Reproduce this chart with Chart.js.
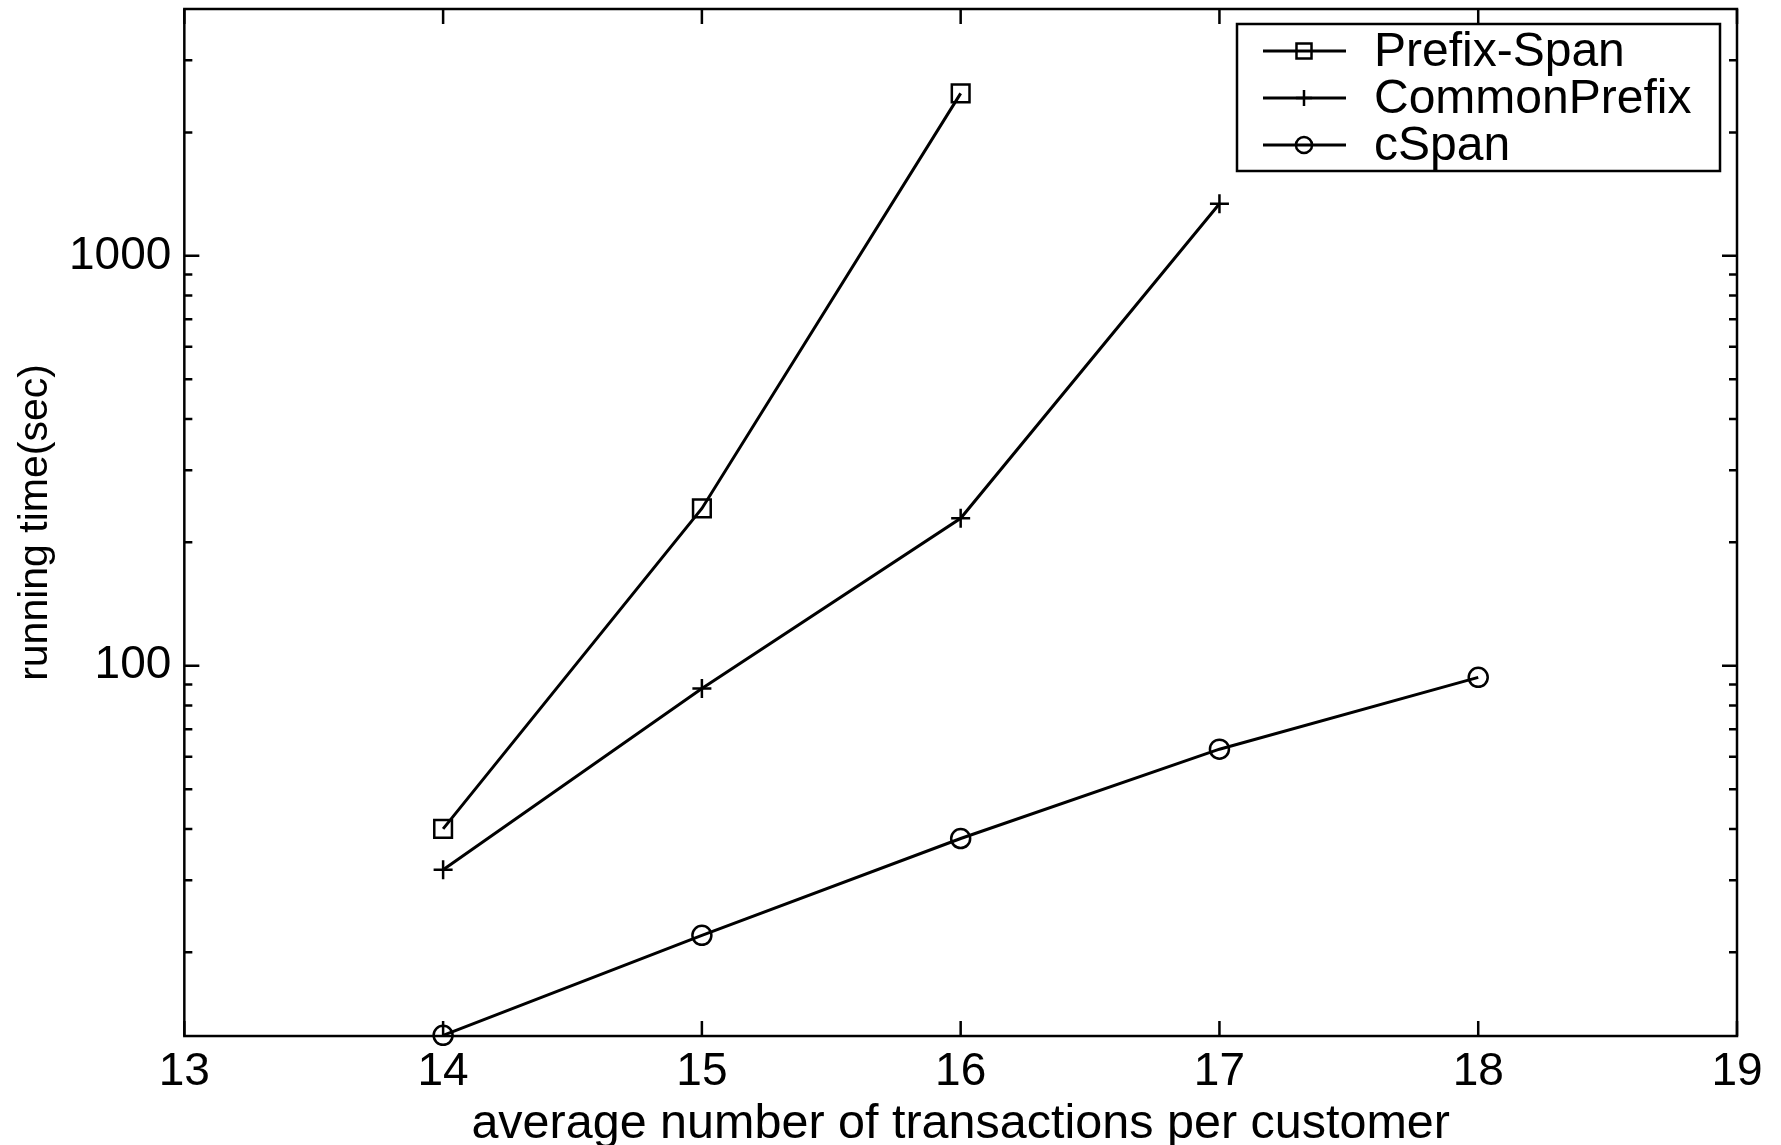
<!DOCTYPE html>
<html>
<head>
<meta charset="utf-8">
<script src="https://cdn.jsdelivr.net/npm/chart.js@4.4.1/dist/chart.umd.min.js"></script>
<style>
    html, body { margin: 0; padding: 0; background: #fff; }
</style>
</head>
<body>
<canvas id="runtimeChart" width="1781" height="1145"></canvas>
<script>
const txPerCustomer = [14, 15, 16, 17, 18];
const prefixSpanTime = [40, 242, 2490];
const commonPrefixTime = [31.8, 88, 229, 1340];
const cSpanTime = [12.55, 22, 37.9, 62.6, 93.7];
const seriesNames = ['Prefix-Span', 'CommonPrefix', 'cSpan'];
const xTicks = [13, 14, 15, 16, 17, 18, 19];
const yTicks = [20, 30, 40, 50, 60, 70, 80, 90, 100, 200, 300, 400, 500, 600, 700, 800, 900, 1000, 2000, 3000];
const yTickLabels = { 100: '100', 1000: '1000' };

const fontFamily = '"Liberation Sans", Arial, Helvetica, sans-serif';

function toPoints(values) {
    return values.map((v, i) => ({ x: txPerCustomer[i], y: v }));
}

function seriesStyle(label, values, pointStyle, radius) {
    return {
        label: label,
        data: toPoints(values),
        borderColor: '#000',
        borderWidth: 3,
        pointStyle: pointStyle,
        pointRadius: radius,
        pointBorderWidth: 2.5,
        pointBorderColor: '#000',
        pointBackgroundColor: 'rgba(0,0,0,0)',
        tension: 0,
        clip: false
    };
}

// box around the plot, with matlab style ticks pointing inwards on all four sides
const framePlugin = {
    id: 'frame',
    afterDatasetsDraw(chart) {
        const { ctx, chartArea: a, scales: { x, y } } = chart;
        ctx.save();
        ctx.strokeStyle = '#000';
        ctx.lineWidth = 2.5;
        ctx.strokeRect(a.left, a.top, a.right - a.left, a.bottom - a.top);
        ctx.beginPath();
        xTicks.forEach(v => {
            const px = x.getPixelForValue(v);
            ctx.moveTo(px, a.bottom); ctx.lineTo(px, a.bottom - 15);
            ctx.moveTo(px, a.top); ctx.lineTo(px, a.top + 15);
        });
        yTicks.forEach(v => {
            const py = y.getPixelForValue(v);
            const len = yTickLabels[v] ? 15 : 8;
            ctx.moveTo(a.left, py); ctx.lineTo(a.left + len, py);
            ctx.moveTo(a.right, py); ctx.lineTo(a.right - len, py);
        });
        ctx.stroke();
        ctx.restore();
    }
};

// legend box in the top right corner: line sample with the marker in its middle
const boxLegendPlugin = {
    id: 'boxLegend',
    afterDraw(chart) {
        const { ctx, chartArea: a } = chart;
        const boxW = 483, boxH = 147;
        const left = a.right - 17 - boxW;
        const top = a.top + 15;
        ctx.save();
        ctx.fillStyle = '#fff';
        ctx.fillRect(left, top, boxW, boxH);
        ctx.strokeStyle = '#000';
        ctx.lineWidth = 2.5;
        ctx.strokeRect(left, top, boxW, boxH);
        ctx.font = '48px ' + fontFamily;
        ctx.textBaseline = 'middle';
        chart.data.datasets.forEach((ds, i) => {
            const cy = top + 27 + i * 47;
            ctx.lineWidth = 3;
            ctx.beginPath();
            ctx.moveTo(left + 26, cy);
            ctx.lineTo(left + 109, cy);
            ctx.stroke();
            ctx.lineWidth = 2.5;
            ctx.fillStyle = 'rgba(0,0,0,0)';
            Chart.helpers.drawPoint(ctx, {
                pointStyle: ds.pointStyle,
                radius: ds.pointRadius * 0.85,
                rotation: 0,
                borderWidth: 2.5
            }, left + 67, cy);
            ctx.fillStyle = '#000';
            ctx.fillText(ds.label, left + 137, cy + 2);
        });
        ctx.restore();
    }
};

const ctx = document.getElementById('runtimeChart').getContext('2d');
const runtimeChart = new Chart(ctx, {
    type: 'line',
    data: {
        datasets: [
            seriesStyle(seriesNames[0], prefixSpanTime, 'rect', 12.5),
            seriesStyle(seriesNames[1], commonPrefixTime, 'cross', 9.5),
            seriesStyle(seriesNames[2], cSpanTime, 'circle', 9.5)
        ]
    },
    options: {
        responsive: false,
        animation: false,
        devicePixelRatio: 1,
        layout: {
            autoPadding: false,
            padding: { top: 9, right: 44, bottom: 0, left: 15 }
        },
        scales: {
            x: {
                type: 'linear',
                min: 13,
                max: 19,
                afterBuildTicks: scale => {
                    scale.ticks = xTicks.map(v => ({ value: v }));
                },
                ticks: {
                    color: '#000',
                    padding: 13,
                    font: { family: fontFamily, size: 46, lineHeight: 1 }
                },
                grid: { display: false, drawTicks: false },
                border: { display: false },
                title: {
                    display: true,
                    text: 'average number of transactions per customer',
                    color: '#000',
                    padding: { top: 0, bottom: 4 },
                    font: { family: fontFamily, size: 48.5, lineHeight: 0.68 }
                }
            },
            y: {
                type: 'logarithmic',
                min: 12.5,
                max: 4000,
                afterBuildTicks: scale => {
                    scale.ticks = yTicks.map(v => ({ value: v, major: !!yTickLabels[v] }));
                },
                // the unlabelled top tick should not push the plot down
                afterFit: scale => {
                    scale.paddingTop = 0;
                    scale.paddingBottom = 0;
                },
                ticks: {
                    autoSkip: false,
                    color: '#000',
                    padding: 13,
                    font: { family: fontFamily, size: 46, lineHeight: 1 },
                    callback: value => yTickLabels[value] || ''
                },
                grid: { display: false, drawTicks: false },
                border: { display: false },
                title: {
                    display: true,
                    text: 'running time(sec)',
                    color: '#000',
                    padding: { top: 0, bottom: 0 },
                    font: { family: fontFamily, size: 41, lineHeight: 1 }
                }
            }
        },
        plugins: {
            legend: { display: false },
            tooltip: { enabled: false }
        }
    },
    plugins: [framePlugin, boxLegendPlugin]
});
</script>
</body>
</html>
